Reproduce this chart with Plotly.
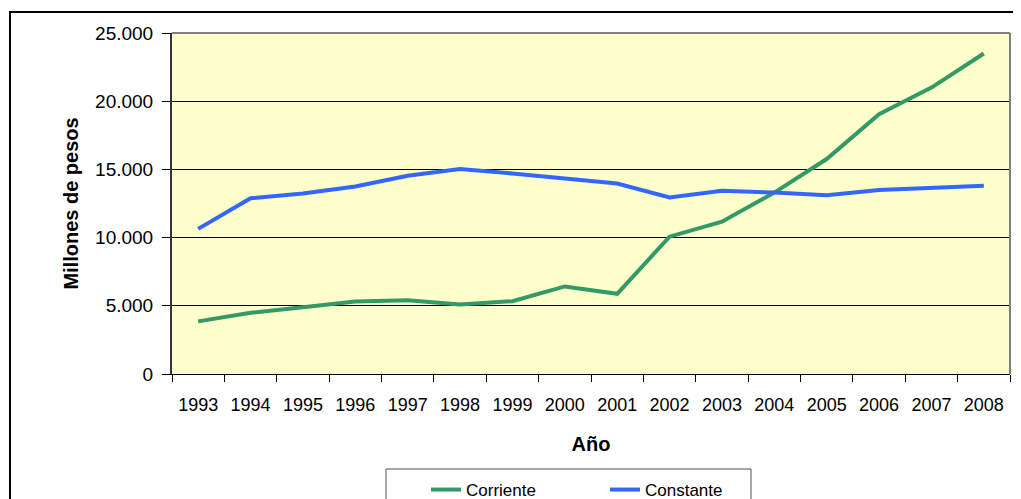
import plotly.graph_objects as go

# datos (millones de pesos)
anios = ["1993", "1994", "1995", "1996", "1997", "1998", "1999", "2000",
         "2001", "2002", "2003", "2004", "2005", "2006", "2007", "2008"]
corriente = [3860, 4490, 4900, 5320, 5410, 5100, 5340, 6420,
             5880, 10070, 11170, 13300, 15760, 19050, 21000, 23500]
constante = [10640, 12880, 13240, 13750, 14540, 15020, 14700, 14370,
             13970, 12950, 13440, 13300, 13100, 13490, 13680, 13800]

# la pagina tiene 8px de margen en el body
OFF = 8
W, H = 1021 - OFF, 499 - OFF
# area del grafico en pixeles de pantalla
L, R, T, B = 172, 1010, 33, 374


def px(x):
    return (x - L) / (R - L)


def py(y):
    return (B - y) / (B - T)


fig = go.Figure()
fig.add_trace(go.Scatter(x=anios, y=corriente, mode="lines", name="Corriente",
                         line=dict(color="#339966", width=4)))
fig.add_trace(go.Scatter(x=anios, y=constante, mode="lines", name="Constante",
                         line=dict(color="#3366FF", width=4)))

fig.update_layout(
    width=W, height=H,
    margin=dict(l=L - OFF, r=W - (R - OFF), t=T - OFF, b=H - (B - OFF), autoexpand=False),
    paper_bgcolor="white",
    plot_bgcolor="#FFFFCC",
    font=dict(family="Liberation Sans, Arial, sans-serif", color="black"),
    separators=",.",
    showlegend=True,
    legend=dict(orientation="h", x=px(426), y=py(472), xanchor="left", yanchor="top",
                bgcolor="rgba(0,0,0,0)", font=dict(size=17), entrywidth=134,
                itemwidth=30),
    xaxis=dict(type="category", range=[-0.5, 15.5], tickson="boundaries",
               ticks="outside", ticklen=7, tickcolor="black", showline=True,
               linecolor="black", linewidth=1, showgrid=False, tickfont=dict(size=18),
               ticklabelstandoff=14, automargin=False,
               title=dict(text="<b>Año</b>", font=dict(size=20), standoff=23)),
    yaxis=dict(range=[0, 25000], dtick=5000, tickformat=",d", ticks="outside",
               ticklen=8, tickcolor="black", showline=True, linecolor="#333333",
               linewidth=2, showgrid=True, gridcolor="black", gridwidth=1,
               zeroline=False, tickfont=dict(size=19), ticklabelstandoff=5,
               automargin=False,
               title=dict(text="<b>Millones de pesos</b>", font=dict(size=20), standoff=11)),
    shapes=[
        # borde exterior
        dict(type="rect", xref="paper", yref="paper", x0=px(10), x1=px(1030),
             y0=py(515), y1=py(12), line=dict(color="black", width=2)),
        # borde gris del area del grafico
        dict(type="line", xref="paper", yref="paper", x0=0, x1=1, y0=1, y1=1,
             line=dict(color="#808080", width=2)),
        dict(type="line", xref="paper", yref="paper", x0=1, x1=1, y0=0, y1=1,
             line=dict(color="#808080", width=2)),
        # caja de la leyenda
        dict(type="rect", xref="paper", yref="paper", x0=px(386), x1=px(751),
             y0=py(515), y1=py(469), line=dict(color="#555555", width=1)),
    ],
)

fig.write_html("out.html")
